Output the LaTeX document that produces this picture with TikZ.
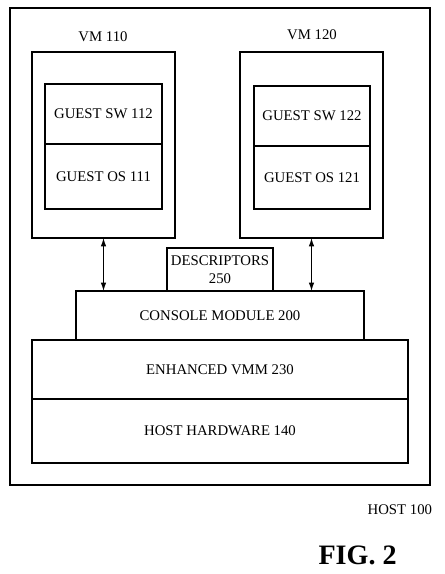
\documentclass[tikz,border=0pt]{standalone}
\usepackage{fontspec}
\setmainfont{Liberation Serif}
\usetikzlibrary{positioning, arrows.meta}
\begin{document}
\begin{tikzpicture}[font=\fontsize{10.5}{12.4}\selectfont, box/.style={draw, line width=.95pt, outer sep=0pt, inner sep=0pt, align=center}, arr/.style={{Latex[length=6pt, width=4pt]}-{Latex[length=6pt, width=4pt]}, line width=.8pt}]
        \useasboundingbox(0, 0)rectangle(11.125, 14.35);
        \node[box, line width=1.3pt, minimum width=10.5cm, minimum height=11.925cm](host)at(5.5, 8.1875){};
        % virtual machines
        \node[box, minimum width=3.575cm, minimum height=4.65cm](vm1)at(2.5875, 10.725){};
        \node[box, minimum width=3.575cm, minimum height=4.65cm](vm2)at(7.7875, 10.725){};
        \node(vmlab1)at(2.575, 13.43){VM 110};
        \node(vmlab2)at(7.8, 13.47){VM 120};
        \node[box, minimum width=2.925cm, minimum height=1.5cm](sw1)at(2.5875, 11.5){GUEST SW 112};
        \node[box, minimum width=2.925cm, minimum height=1.625cm, below=0pt of sw1](os1){GUEST OS 111};
        \node[box, minimum width=2.9cm, minimum height=1.5cm](sw2)at(7.8, 11.45){GUEST SW 122};
        \node[box, minimum width=2.9cm, minimum height=1.575cm, below=0pt of sw2](os2){GUEST OS 121};
        % layers
        \node[box, minimum width=2.65cm, minimum height=1.075cm](desc)at(5.5, 7.6125){DESCRIPTORS\\250};
        \node[box, minimum width=7.2cm, minimum height=1.225cm](con)at(5.5, 6.4625){CONSOLE MODULE 200};
        \node[box, minimum width=9.4cm, minimum height=1.475cm](vmm)at(5.5, 5.1125){ENHANCED VMM 230};
        \node[box, minimum width=9.4cm, minimum height=1.6cm, below=0pt of vmm](hw){HOST HARDWARE 140};
        \draw[arr](vm1.south)--(vm1.south |- con.north);
        \draw[arr](vm2.south)--(vm2.south |- con.north);
        \node[anchor=east](hostlab)at(10.925, 1.6){HOST 100};
        \node[font=\bfseries\fontsize{20}{24}\selectfont](fig)at(8.94, .475){FIG. 2};
    \end{tikzpicture}
\end{document}
